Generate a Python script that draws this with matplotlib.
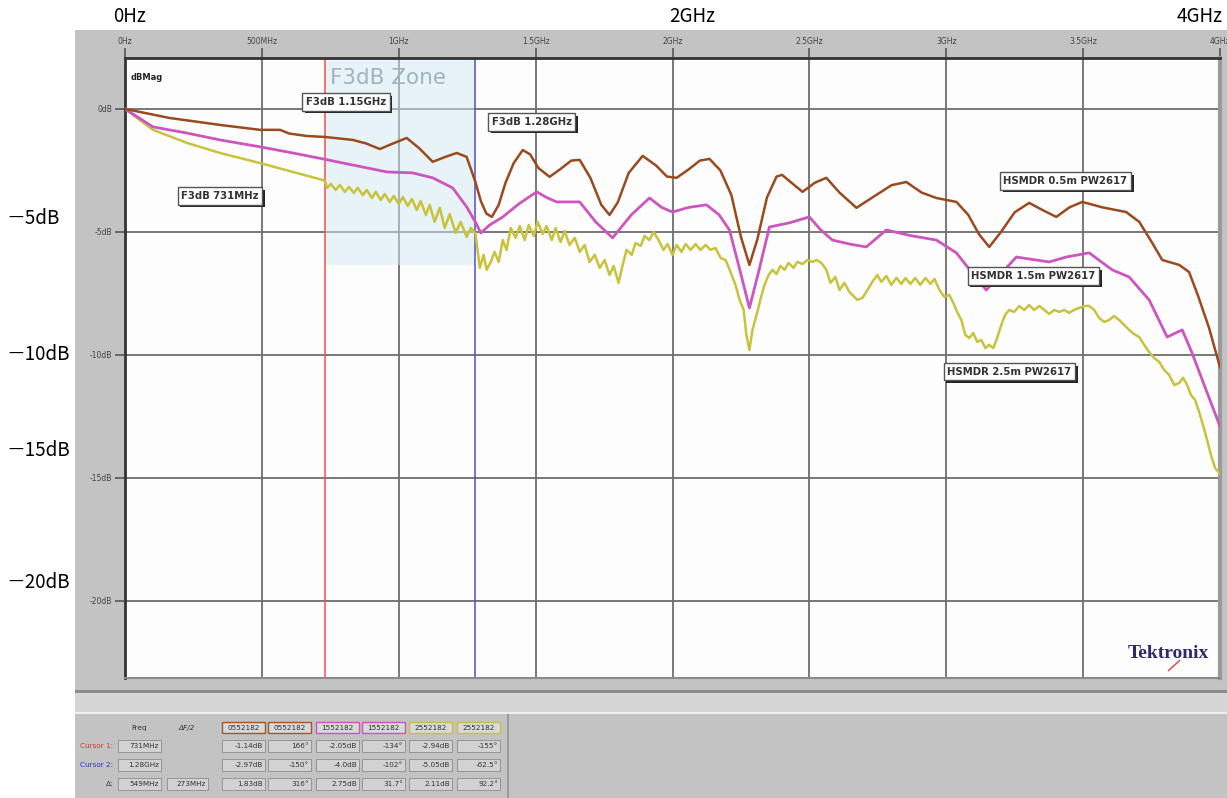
import numpy as np
import matplotlib
matplotlib.use("Agg")
import matplotlib.pyplot as plt
import matplotlib.patheffects as pe
from matplotlib.patches import Rectangle

plt.rcParams['font.family'] = ['DejaVu Sans']

# S21 magnitude traces, frequency in MHz, level in dB
f_05 = [0, 164, 347, 493, 566, 600, 664, 731, 832, 880, 931, 980, 1029, 1075, 1124,
        1170, 1212, 1248, 1280, 1300, 1320, 1340, 1365, 1390, 1420, 1453, 1480,
        1510, 1551, 1590, 1630, 1661, 1700, 1740, 1770, 1800, 1840, 1891, 1940,
        1980, 2015, 2060, 2100, 2135, 2175, 2215, 2250, 2281, 2310, 2345, 2380,
        2400, 2440, 2475, 2520, 2562, 2610, 2672, 2730, 2800, 2854, 2910, 2964,
        3037, 3080, 3120, 3157, 3200, 3250, 3303, 3350, 3402, 3450, 3497, 3570,
        3657, 3705, 3750, 3789, 3851, 3887, 3920, 3960, 4000]
db_05 = [0, -0.37, -0.65, -0.85, -0.85, -1.0, -1.10, -1.14, -1.26, -1.40, -1.63,
         -1.40, -1.18, -1.6, -2.15, -1.95, -1.79, -1.95, -2.97, -3.75, -4.25,
         -4.39, -3.9, -3.0, -2.2, -1.67, -1.85, -2.4, -2.76, -2.45, -2.1, -2.07,
         -2.8, -3.9, -4.31, -3.8, -2.6, -1.91, -2.3, -2.75, -2.80, -2.45, -2.1,
         -2.03, -2.5, -3.5, -5.2, -6.34, -5.3, -3.6, -2.75, -2.68, -3.05, -3.37,
         -3.0, -2.80, -3.4, -4.02, -3.6, -3.1, -2.97, -3.4, -3.62, -3.78, -4.3,
         -5.1, -5.61, -5.0, -4.2, -3.82, -4.1, -4.39, -4.0, -3.78, -4.0, -4.19,
         -4.59, -5.4, -6.14, -6.34, -6.63, -7.6, -8.9, -10.5]

f_15 = [0, 102, 226, 347, 493, 613, 731, 832, 956, 1051, 1124, 1197, 1248, 1280,
        1300, 1332, 1380, 1440, 1504, 1540, 1577, 1661, 1720, 1781, 1850, 1916,
        1960, 2000, 2060, 2124, 2170, 2208, 2245, 2281, 2315, 2354, 2427, 2500,
        2540, 2584, 2650, 2708, 2781, 2870, 2964, 3037, 3090, 3146, 3200, 3256,
        3376, 3438, 3522, 3606, 3668, 3741, 3807, 3862, 3898, 3949, 4000]
db_15 = [0, -0.73, -0.98, -1.26, -1.54, -1.79, -2.05, -2.28, -2.56, -2.60, -2.80,
         -3.21, -3.98, -4.6, -5.04, -4.72, -4.39, -3.85, -3.37, -3.6, -3.78, -3.78,
         -4.6, -5.24, -4.3, -3.62, -4.0, -4.19, -4.0, -3.90, -4.3, -4.92, -6.5,
         -8.09, -6.6, -4.80, -4.63, -4.39, -4.9, -5.33, -5.5, -5.61, -4.92, -5.15,
         -5.33, -5.85, -6.6, -7.36, -6.7, -6.02, -6.22, -6.02, -5.85, -6.54, -6.83,
         -7.76, -9.27, -8.98, -9.92, -11.42, -12.9]

f_25 = [0, 102, 226, 347, 493, 613, 723, 731, 738, 752, 770, 785, 803, 818, 836,
        850, 869, 883, 902, 916, 934, 949, 967, 982, 1000, 1015, 1033, 1048, 1066,
        1080, 1099, 1113, 1131, 1150, 1168, 1186, 1208, 1226, 1248, 1263, 1280,
        1296, 1310, 1321, 1336, 1350, 1365, 1380, 1394, 1409, 1427, 1442, 1460,
        1475, 1493, 1507, 1526, 1540, 1559, 1573, 1591, 1606, 1624, 1643, 1661,
        1679, 1697, 1716, 1734, 1752, 1770, 1785, 1803, 1818, 1832, 1851, 1865,
        1884, 1898, 1916, 1931, 1949, 1967, 1982, 2000, 2015, 2033, 2048, 2066,
        2084, 2102, 2121, 2139, 2157, 2176, 2194, 2212, 2230, 2245, 2260, 2270,
        2281, 2292, 2307, 2321, 2336, 2351, 2365, 2380, 2394, 2409, 2424, 2442,
        2456, 2475, 2493, 2511, 2526, 2544, 2562, 2577, 2595, 2610, 2628, 2646,
        2661, 2675, 2694, 2712, 2730, 2748, 2763, 2781, 2799, 2818, 2836, 2851,
        2869, 2887, 2905, 2924, 2942, 2957, 2975, 2993, 3011, 3026, 3040, 3055,
        3070, 3084, 3099, 3113, 3128, 3143, 3157, 3172, 3186, 3201, 3215, 3230,
        3248, 3267, 3285, 3303, 3321, 3340, 3358, 3376, 3394, 3413, 3431, 3449,
        3467, 3486, 3504, 3522, 3540, 3559, 3577, 3595, 3613, 3632, 3650, 3668,
        3686, 3705, 3723, 3741, 3759, 3778, 3796, 3814, 3833, 3851, 3865, 3880,
        3894, 3909, 3924, 3938, 3953, 3967, 3982, 4000]
db_25 = [0, -0.85, -1.38, -1.79, -2.20, -2.56, -2.89, -2.94, -3.21, -3.05, -3.29,
         -3.09, -3.37, -3.17, -3.41, -3.21, -3.50, -3.29, -3.62, -3.37, -3.70,
         -3.46, -3.78, -3.54, -3.86, -3.58, -3.94, -3.66, -4.11, -3.74, -4.31,
         -3.90, -4.59, -4.02, -4.84, -4.27, -5.04, -4.59, -5.20, -4.84, -5.05,
         -6.46, -5.93, -6.54, -6.22, -5.81, -6.22, -5.33, -5.73, -4.84, -5.24,
         -4.76, -5.33, -4.72, -5.16, -4.59, -5.08, -4.76, -5.33, -4.84, -5.41,
         -4.96, -5.53, -5.24, -5.81, -5.53, -6.22, -5.93, -6.46, -6.14, -6.75,
         -6.38, -7.07, -6.34, -5.73, -5.93, -5.45, -5.57, -5.16, -5.33, -5.00,
         -5.33, -5.73, -5.49, -5.93, -5.53, -5.81, -5.49, -5.73, -5.49, -5.73,
         -5.53, -5.73, -5.65, -6.06, -6.14, -6.63, -7.15, -7.76, -8.17, -9.19,
         -9.80, -8.98, -8.37, -7.76, -7.15, -6.75, -6.54, -6.71, -6.38, -6.54,
         -6.26, -6.46, -6.22, -6.30, -6.14, -6.22, -6.14, -6.26, -6.54, -7.07,
         -6.83, -7.36, -7.07, -7.44, -7.60, -7.76, -7.68, -7.36, -7.03, -6.75,
         -7.03, -6.79, -7.15, -6.87, -7.11, -6.87, -7.11, -6.87, -7.15, -6.87,
         -7.11, -6.91, -7.36, -7.64, -7.56, -7.89, -8.25, -8.58, -9.19, -9.31,
         -9.11, -9.47, -9.39, -9.72, -9.59, -9.72, -9.31, -8.78, -8.37, -8.17,
         -8.25, -8.01, -8.17, -7.97, -8.17, -8.01, -8.17, -8.33, -8.17, -8.25,
         -8.17, -8.29, -8.17, -8.09, -8.01, -8.01, -8.17, -8.50, -8.66, -8.58,
         -8.42, -8.58, -8.78, -8.98, -9.15, -9.27, -9.59, -9.88, -10.12, -10.28,
         -10.61, -10.81, -11.22, -11.14, -10.93, -11.22, -11.63, -11.83, -12.32,
         -12.85, -13.46, -14.07, -14.59, -14.84]

cursor1 = 731
cursor2 = 1280
zone_floor = -6.34

freq_ticks = [0, 500, 1000, 1500, 2000, 2500, 3000, 3500, 4000]
freq_labels = ['0Hz', '500MHz', '1GHz', '1.5GHz', '2GHz', '2.5GHz', '3GHz',
               '3.5GHz', '4GHz']
db_ticks = [0, -5, -10, -15, -20]
db_labels = ['0dB', '-5dB', '-10dB', '-15dB', '-20dB']

# cursor readout table
hdr = ['0552182', '0552182', '1552182', '1552182', '2552182', '2552182']
hdr_col = ['#9a5a2a', '#9a5a2a', '#cc55bb', '#cc55bb', '#c8c040', '#c8c040']
row1 = ['-1.14dB', '166\u00b0', '-2.05dB', '-134\u00b0', '-2.94dB', '-155\u00b0']
row2 = ['-2.97dB', '-150\u00b0', '-4.0dB', '-102\u00b0', '-5.05dB', '-62.5\u00b0']
row3 = ['1.83dB', '316\u00b0', '2.75dB', '31.7\u00b0', '2.11dB', '92.2\u00b0']

W, H = 1227, 798
fig = plt.figure(figsize=(W / 100, H / 100), dpi=100)
fig.patch.set_facecolor('white')

# background layer in pixel coordinates
bg = fig.add_axes([0, 0, 1, 1])
bg.set_xlim(0, W)
bg.set_ylim(H, 0)
bg.axis('off')
bg.add_patch(Rectangle((75, 30), W - 75, H - 30, color='#c3c3c3', lw=0))
bg.add_patch(Rectangle((75, 690), W - 75, 3, color='#8a8a8a', lw=0))
bg.add_patch(Rectangle((75, 693), W - 75, 20, color='#d6d6d6', lw=0))
bg.add_patch(Rectangle((75, 712), W - 75, 2, color='#efefef', lw=0))
bg.add_patch(Rectangle((507, 714), 2, H - 714, color='#9a9a9a', lw=0))

# outer annotations
big = dict(fontsize=13.5, family=['Noto Sans CJK JP', 'DejaVu Sans'], color='black')
bg.text(130, 17, '0Hz', ha='center', va='center', **big)
bg.text(692, 17, '2GHz', ha='center', va='center', **big)
bg.text(1200, 17, '4GHz', ha='center', va='center', **big)
for lab, yy in zip(['\uff0d5dB', '\uff0d10dB', '\uff0d15dB', '\uff0d20dB'],
                   [218, 355, 450, 583]):
    bg.text(6, yy, lab, ha='left', va='center', **big)

# readout table
small = dict(fontsize=5.2, color='#333333', va='center')
bg.text(139, 728, 'Freq', ha='center', **small)
bg.text(187, 728, '\u0394F/2', ha='center', style='italic', **small)
cols = [222, 268, 316, 362, 409, 457]
for x0, t, c in zip(cols, hdr, hdr_col):
    bg.add_patch(Rectangle((x0, 722), 43, 11, fc='#d8d8d8', ec=c, lw=1))
    bg.text(x0 + 21.5, 727.5, t, ha='center', **small)


def cell(x0, y0, w, t):
    bg.add_patch(Rectangle((x0, y0), w, 12, fc='#d2d2d2', ec='#8c8c8c', lw=0.6))
    bg.text(x0 + w - 2, y0 + 6, t, ha='right', **small)


rows_y = [740, 759, 778]
bg.text(113, 746, 'Cursor 1:', ha='right', fontsize=5.2, color='#e03030', va='center')
bg.text(113, 765, 'Cursor 2:', ha='right', fontsize=5.2, color='#3030c0', va='center')
bg.text(113, 784, '\u0394:', ha='right', **small)
cell(118, rows_y[0], 43, '731MHz')
cell(118, rows_y[1], 43, '1.28GHz')
cell(118, rows_y[2], 43, '549MHz')
cell(167, rows_y[2], 41, '273MHz')
for yy, vals in zip(rows_y, [row1, row2, row3]):
    for x0, t in zip(cols, vals):
        cell(x0, yy, 43, t)

# main plot area
px_l, px_r, px_t, px_b = 125, 1220, 58, 678
ax = fig.add_axes([px_l / W, 1 - px_b / H, (px_r - px_l) / W, (px_b - px_t) / H])
ax.set_facecolor('#fdfdfd')
ax.set_xlim(0, 4000)
ax.set_ylim(-23.13, 2.07)

ax.xaxis.tick_top()
ax.set_xticks(freq_ticks)
ax.set_xticklabels(freq_labels)
ax.set_yticks(db_ticks)
ax.set_yticklabels(db_labels)
ax.tick_params(axis='both', direction='out', length=7, width=1.2, color='#555555',
               labelsize=5.5, labelcolor='#444444', pad=2)
ax.grid(True, color='#6e6e6e', lw=1.3)
ax.set_axisbelow(True)
for side in ['left', 'top']:
    ax.spines[side].set_color('#333333')
    ax.spines[side].set_linewidth(2)
ax.spines['right'].set_color('#9a9a9a')
ax.spines['right'].set_linewidth(3)
ax.spines['bottom'].set_color('#8a8a8a')
ax.spines['bottom'].set_linewidth(1.5)

# F3dB zone and cursors
ax.fill_between([cursor1, cursor2], zone_floor, 2.07, color='#d2eaf0', alpha=0.5,
                lw=0, zorder=1.5)
ax.axvline(cursor1, color='#f05050', lw=1.1, zorder=2)
ax.axvline(cursor2, color='#5050c8', lw=1.1, zorder=2)
ax.text(748, 1.26, 'F3dB Zone', fontsize=15.5, color='#9fb4bc', va='center', ha='left')

ax.plot(f_25, db_25, color='#c8c23c', lw=1.8, zorder=3)
ax.plot(f_15, db_15, color='#cc55c0', lw=2.0, zorder=4)
ax.plot(f_05, db_05, color='#9a4a1e', lw=1.8, zorder=5)

shadow = [pe.SimplePatchShadow(offset=(2, -2), shadow_rgbFace='#222222', alpha=1.0),
          pe.Normal()]


def tag(x, y, t):
    txt = ax.text(x, y, t, ha='center', va='center', fontsize=7.3, fontweight='bold',
                  color='#333333', zorder=6,
                  bbox=dict(boxstyle='square,pad=0.35', fc='white', ec='#555555', lw=1))
    txt.get_bbox_patch().set_path_effects(shadow)


tag(807, 0.28, 'F3dB 1.15GHz')
tag(1486, -0.53, 'F3dB 1.28GHz')
tag(347, -3.54, 'F3dB 731MHz')
tag(3435, -2.93, 'HSMDR 0.5m PW2617')
tag(3318, -6.79, 'HSMDR 1.5m PW2617')
tag(3230, -10.69, 'HSMDR 2.5m PW2617')

ax.text(0.005, 0.975, 'dBMag', transform=ax.transAxes, fontsize=6, fontweight='bold',
        color='#222222', va='top', ha='left')
ax.text(0.99, 0.04, 'Tektronix', transform=ax.transAxes, fontsize=14,
        fontweight='bold', family=['Liberation Serif'], color='#2d2a72',
        ha='right', va='center')
ax.plot([0.953, 0.963], [0.012, 0.028], transform=ax.transAxes, color='#e04040', lw=1)

fig.savefig('out.png', dpi=100, facecolor='white')
